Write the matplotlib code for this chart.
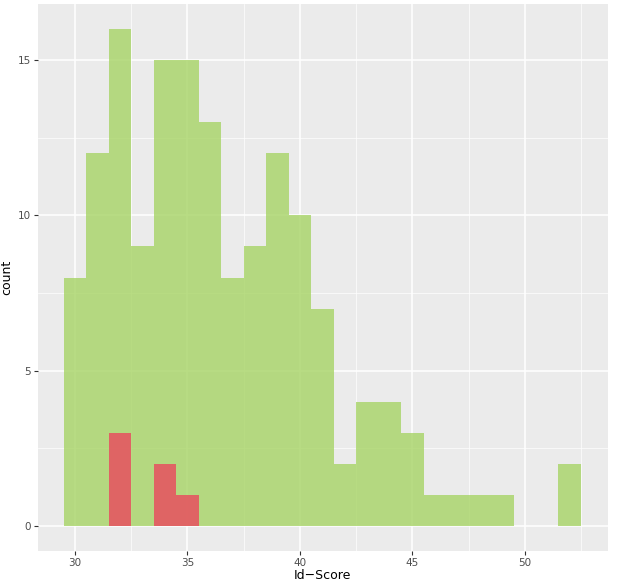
import numpy as np
import matplotlib
matplotlib.use("Agg")
from matplotlib import pyplot as plt
from matplotlib.ticker import MultipleLocator

# histogram bins (binwidth 1, centred on integers)
bin_centers = [30, 31, 32, 33, 34, 35, 36, 37, 38, 39, 40, 41, 42, 43, 44, 45,
               46, 47, 48, 49, 50, 51, 52]
green_counts = [8, 12, 16, 9, 15, 15, 13, 8, 9, 12, 10, 7, 2, 4, 4, 3,
                1, 1, 1, 1, 0, 0, 2]
red_centers = [32, 34, 35]
red_counts = [3, 2, 1]

x_ticks = [30, 35, 40, 45, 50]
y_ticks = [0, 5, 10, 15]

fig = plt.figure(figsize=(6.17, 5.84), dpi=100)
ax = fig.add_axes([0.0611, 0.0565, 0.9243, 0.9366])

ax.set_facecolor("#EBEBEB")
ax.set_axisbelow(True)
ax.xaxis.set_minor_locator(MultipleLocator(2.5))
ax.yaxis.set_minor_locator(MultipleLocator(2.5))
ax.grid(which="major", color="white", linewidth=1.1)
ax.grid(which="minor", color="white", linewidth=0.5)

ax.bar(bin_centers, green_counts, width=1.0, color=(167/255, 212/255, 101/255),
       alpha=0.8, linewidth=0)
ax.bar(red_centers, red_counts, width=1.0, color=(235/255, 71/255, 93/255),
       alpha=0.8, linewidth=0)

ax.set_xlim(28.35, 53.7)
ax.set_ylim(-0.8, 16.8)
ax.set_xticks(x_ticks)
ax.set_yticks(y_ticks)

for s in ax.spines.values():
    s.set_visible(False)
ax.tick_params(which="major", length=3, width=0.8, color="#333333",
               labelsize=7.5, labelcolor="#4D4D4D", pad=2)
ax.tick_params(which="minor", length=0)

ax.set_xlabel("Id\u2212Score", fontsize=9, labelpad=1)
ax.set_ylabel("count", fontsize=9, labelpad=3)

fig.savefig("out.png", dpi=100)
